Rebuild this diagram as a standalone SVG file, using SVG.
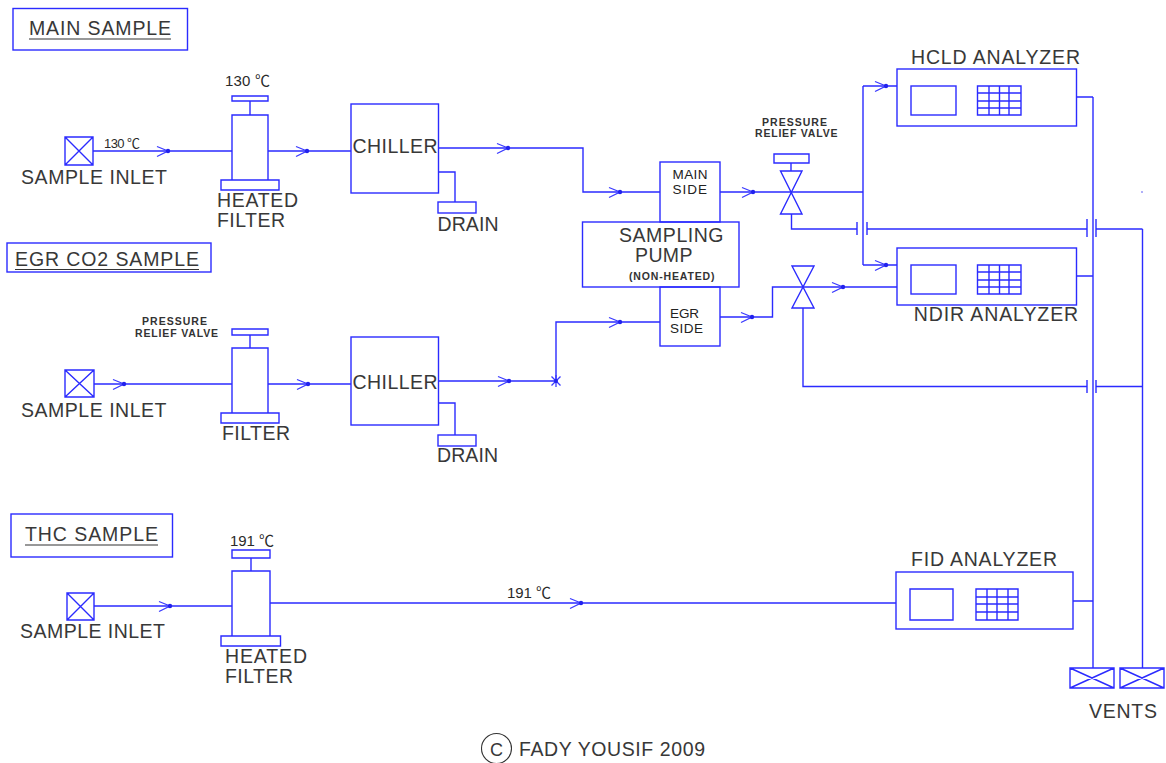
<svg xmlns="http://www.w3.org/2000/svg" width="1166" height="763" viewBox="0 0 1166 763">
<style>
.s{fill:none;stroke:#2b2bff;stroke-width:1.4;stroke-linejoin:miter}
.a{fill:none;stroke:#3a3aff;stroke-width:1.3}
.t{font-family:"Liberation Sans",Arial,sans-serif;fill:#383838;font-size:19.5px}
.m{font-size:13.5px;fill:#222}
.b{font-family:"Liberation Sans",Arial,sans-serif;fill:#333;font-size:10.5px;font-weight:bold}
.c{font-family:"Liberation Sans","Noto Sans CJK SC",sans-serif;fill:#2a2a2a}
.d{fill:#2222ee}
.u{stroke:#333;stroke-width:1.2}
</style>
<defs>
<g id="arrow"><path class="a" d="M-11,-4.500 L0,0 L-11,5.500"/><circle class="d" r="2.200"/></g>
<g id="panel"><rect class="s" x="0" y="0" width="45" height="29"/><path class="s" d="M66.500,0H110V29H66.500ZM78,0V29M88.500,0V29M98,0V29M66.500,7H110M66.500,15H110M66.500,22H110"/></g>
</defs>
<rect width="1166" height="763" fill="#fff"/>

<g id="connectors">
<path class="s" d="M93,151H232M268,151H351M438,148H583V192H660"/>
<path class="s" d="M438,172H455V202"/>
<path class="s" d="M94,384H232M268,384H351M438.500,381H556M556,381V322H660"/>
<path class="s" d="M438.500,403H455V435"/>
<path class="s" d="M94,606H232M270,603H896M1073,601H1093"/>
<path class="s" d="M720,192H863M863,86V265M863,86H897M863,265H897"/>
<path class="s" d="M720,317H772.500V287H897"/>
<path class="s" d="M791.500,214V229H857M867,229H1087M1096,229H1142.500"/>
<path class="s" d="M803,308V386.500H1087M1096,386.500H1142.500"/>
<path class="s" d="M857,222V235M867,222V235M1087,219V237M1096,219V237M1087,380V393M1096,380V393"/>
<path class="s" d="M1076.500,97H1093M1076.500,276H1093M1093,97V668M1142.500,229V668"/>
<path class="a" d="M551.500,376.500L560.500,385.500M560.500,376.500L551.500,385.500M556,375V387"/>
<circle class="d" cx="556" cy="381" r="2"/>
<circle class="d" cx="1142" cy="192" r="0.7"/>
<use href="#arrow" x="168" y="151"/><use href="#arrow" x="307" y="151"/><use href="#arrow" x="508" y="148"/>
<use href="#arrow" x="620" y="192"/><use href="#arrow" x="753" y="192"/><use href="#arrow" x="886" y="86"/><use href="#arrow" x="886" y="265"/>
<use href="#arrow" x="124" y="384"/><use href="#arrow" x="308" y="384"/><use href="#arrow" x="509" y="381"/><use href="#arrow" x="620" y="322"/>
<use href="#arrow" x="752" y="317"/><use href="#arrow" x="843" y="287"/><use href="#arrow" x="170" y="606"/><use href="#arrow" x="581" y="603"/>
</g>

<g id="label-main"><rect class="s" x="13" y="8.500" width="174.500" height="41.500"/><text class="t" x="29" y="35" textLength="142">MAIN SAMPLE</text><path class="u" d="M29,39H171"/></g>
<g id="label-egr"><rect class="s" x="7" y="243" width="204" height="29"/><text class="t" x="15" y="266" textLength="184">EGR CO2 SAMPLE</text><path class="u" d="M15,269.500H199"/></g>
<g id="label-thc"><rect class="s" x="11" y="514" width="161.500" height="43"/><text class="t" x="25" y="541" textLength="133">THC SAMPLE</text><path class="u" d="M25,545H158"/></g>

<g id="inlet-main"><path class="s" d="M65,137H93V165H65ZM65,137L93,165M93,137L65,165"/><text class="t" x="21" y="184" textLength="146">SAMPLE INLET</text><text class="c" font-size="13" x="104" y="148" textLength="36">130 ℃</text></g>
<g id="filter-main"><path class="s" d="M232,96H268V101H232ZM250,101V115M232,115H268V180H232ZM221,180H279V190H221Z"/><text class="c" font-size="15" x="225" y="86" textLength="45">130 ℃</text><text class="t" x="217" y="207" textLength="81">HEATED</text><text class="t" x="217" y="227" textLength="68">FILTER</text></g>
<g id="chiller-main"><rect class="s" x="351" y="104" width="87.500" height="89"/><text class="t" x="352.500" y="153" textLength="85">CHILLER</text></g>
<g id="drain-main"><rect class="s" x="438" y="202" width="38" height="11"/><text class="t" x="437.500" y="231" textLength="61">DRAIN</text></g>

<g id="inlet-egr"><path class="s" d="M65,370H94V397H65ZM65,370L94,397M94,370L65,397"/><text class="t" x="21" y="417" textLength="145.500">SAMPLE INLET</text></g>
<g id="filter-egr"><path class="s" d="M232,329H268V335H232ZM250,335V348M232,348H268V413H232ZM221,413H279V423H221Z"/><text class="b" x="142" y="325" textLength="65">PRESSURE</text><text class="b" x="135" y="337" textLength="83">RELIEF VALVE</text><text class="t" x="222" y="440" textLength="68">FILTER</text></g>
<g id="chiller-egr"><rect class="s" x="351" y="337" width="87.500" height="88"/><text class="t" x="352.500" y="389" textLength="85">CHILLER</text></g>
<g id="drain-egr"><rect class="s" x="438" y="435" width="38" height="11"/><text class="t" x="437" y="462" textLength="61">DRAIN</text></g>

<g id="inlet-thc"><path class="s" d="M67,593H94V620H67ZM67,593L94,620M94,593L67,620"/><text class="t" x="20" y="638" textLength="145">SAMPLE INLET</text></g>
<g id="filter-thc"><path class="s" d="M232,550H270V558H232ZM251,558V571M232,571H270V636H232ZM221,636H280.500V646H221Z"/><text class="c" font-size="15" x="230" y="546" textLength="44">191 ℃</text><text class="t" x="225" y="663" textLength="82">HEATED</text><text class="t" x="225" y="683" textLength="68">FILTER</text></g>
<text class="c" font-size="15" x="507" y="598" textLength="44">191 ℃</text>

<g id="pump"><rect class="s" x="582.500" y="222" width="156.500" height="65"/><text class="t" x="619" y="242" textLength="104.500">SAMPLING</text><text class="t" x="635" y="262" textLength="57.500">PUMP</text><text class="b" x="629" y="280" textLength="85.500">(NON-HEATED)</text></g>
<g id="main-side"><rect class="s" x="660" y="162" width="60" height="60"/><text class="t m" x="672.500" y="179" textLength="35">MAIN</text><text class="t m" x="672.500" y="194" textLength="34.500">SIDE</text></g>
<g id="egr-side"><rect class="s" x="660" y="287" width="60" height="59"/><text class="t m" x="670" y="318" textLength="29">EGR</text><text class="t m" x="670" y="333" textLength="33">SIDE</text></g>

<g id="valve-main"><path class="s" d="M780.500,171H802L780.500,214H802ZM774,154H809V163H774ZM791,163V171"/><text class="b" x="762" y="126" textLength="65">PRESSURE</text><text class="b" x="755" y="137" textLength="82.500">RELIEF VALVE</text></g>
<g id="valve-egr"><path class="s" d="M792,266H814L792,308H814Z"/></g>

<g id="hcld"><rect class="s" x="897" y="69" width="179.500" height="57"/><use href="#panel" x="911" y="86"/><text class="t" x="911" y="64" textLength="169">HCLD ANALYZER</text></g>
<g id="ndir"><rect class="s" x="897" y="248" width="179.500" height="57"/><use href="#panel" x="911" y="265"/><text class="t" x="913.700" y="321" textLength="164.500">NDIR ANALYZER</text></g>
<g id="fid"><rect class="s" x="896" y="572" width="177" height="57"/><path class="s" d="M910,589H953V620H910ZM976,589H1018V620H976ZM987,589V620M997,589V620M1008,589V620M976,597H1018M976,604H1018M976,612H1018"/><text class="t" x="911" y="566" textLength="146">FID ANALYZER</text></g>

<g id="vents"><path class="s" d="M1070,668H1114V688H1070ZM1070,668L1114,688M1114,668L1070,688M1120,668H1164V688H1120ZM1120,668L1164,688M1164,668L1120,688"/><text class="t" x="1089" y="718" textLength="68">VENTS</text></g>

<g id="copyright"><circle cx="496.500" cy="748.500" r="15" fill="none" stroke="#333" stroke-width="1.100"/><text class="t" x="490" y="755.500" style="font-size:18px">C</text><text class="t" x="519" y="756" textLength="186">FADY YOUSIF 2009</text></g>
</svg>
